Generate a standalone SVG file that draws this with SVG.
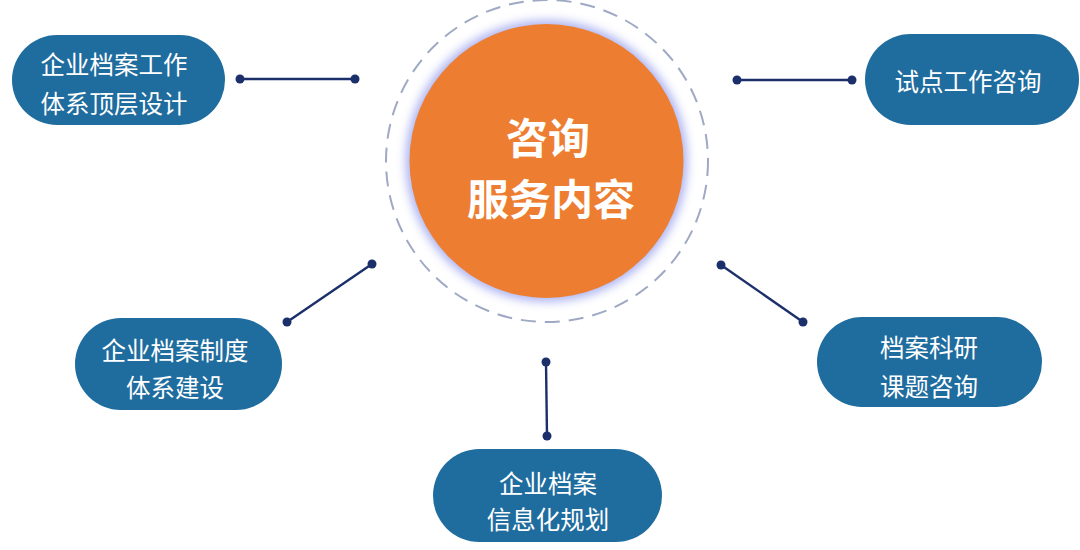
<svg xmlns="http://www.w3.org/2000/svg" width="1080" height="550" viewBox="0 0 1080 550">
<defs>
<style>
.node rect{fill:#1F6C9E;}
.node text{fill:#FFFFFF;font-family:"Noto Sans CJK SC","Noto Sans",sans-serif;font-size:24.5px;text-anchor:middle;dominant-baseline:central;}
.conn line{stroke:#1B2F6B;stroke-width:2.4;}
.conn circle{fill:#1B2F6B;}
.title{fill:#FFFFFF;font-family:"Noto Sans CJK SC","Noto Sans",sans-serif;font-size:42px;font-weight:700;text-anchor:middle;dominant-baseline:central;}
</style>
<filter id="glow" x="-30%" y="-30%" width="160%" height="160%">
<feGaussianBlur stdDeviation="5"/>
</filter>
</defs>
<rect width="1080" height="550" fill="#FFFFFF"/>
<g id="center">
<circle cx="547" cy="161" r="161" fill="none" stroke="#9FA9C4" stroke-width="2" stroke-dasharray="15,9"/>
<circle cx="546.5" cy="161" r="141" fill="#9AA2EE" filter="url(#glow)" opacity="0.8"/>
<circle cx="546.5" cy="161" r="137" fill="#ED7E31"/>
<text class="title" x="548" y="135">咨询</text>
<text class="title" x="551" y="196">服务内容</text>
</g>
<g id="connectors" class="conn">
<line x1="240" y1="79" x2="355" y2="79"/>
<circle cx="240" cy="79" r="4.5"/><circle cx="355" cy="79" r="4.5"/>
<line x1="737" y1="80" x2="852" y2="80"/>
<circle cx="737" cy="80" r="4.5"/><circle cx="852" cy="80" r="4.5"/>
<line x1="372" y1="264" x2="287" y2="322"/>
<circle cx="372" cy="264" r="4.5"/><circle cx="287" cy="322" r="4.5"/>
<line x1="721" y1="265" x2="803" y2="322"/>
<circle cx="721" cy="265" r="4.5"/><circle cx="803" cy="322" r="4.5"/>
<line x1="546" y1="362" x2="547" y2="436"/>
<circle cx="546" cy="362" r="4.5"/><circle cx="547" cy="436" r="4.5"/>
</g>
<g id="node1" class="node">
<rect x="12" y="35" width="213" height="90" rx="45"/>
<text x="114" y="63">企业档案工作</text>
<text x="114" y="102">体系顶层设计</text>
</g>
<g id="node2" class="node">
<rect x="865" y="34" width="214" height="91" rx="45.5"/>
<text x="968" y="80">试点工作咨询</text>
</g>
<g id="node3" class="node">
<rect x="75" y="318" width="207" height="92" rx="46"/>
<text x="175" y="349">企业档案制度</text>
<text x="175" y="386">体系建设</text>
</g>
<g id="node4" class="node">
<rect x="817" y="317" width="225" height="90" rx="45"/>
<text x="929" y="346">档案科研</text>
<text x="929" y="385">课题咨询</text>
</g>
<g id="node5" class="node">
<rect x="433" y="449" width="229" height="93" rx="46.5"/>
<text x="548" y="482">企业档案</text>
<text x="548" y="518">信息化规划</text>
</g>
</svg>
